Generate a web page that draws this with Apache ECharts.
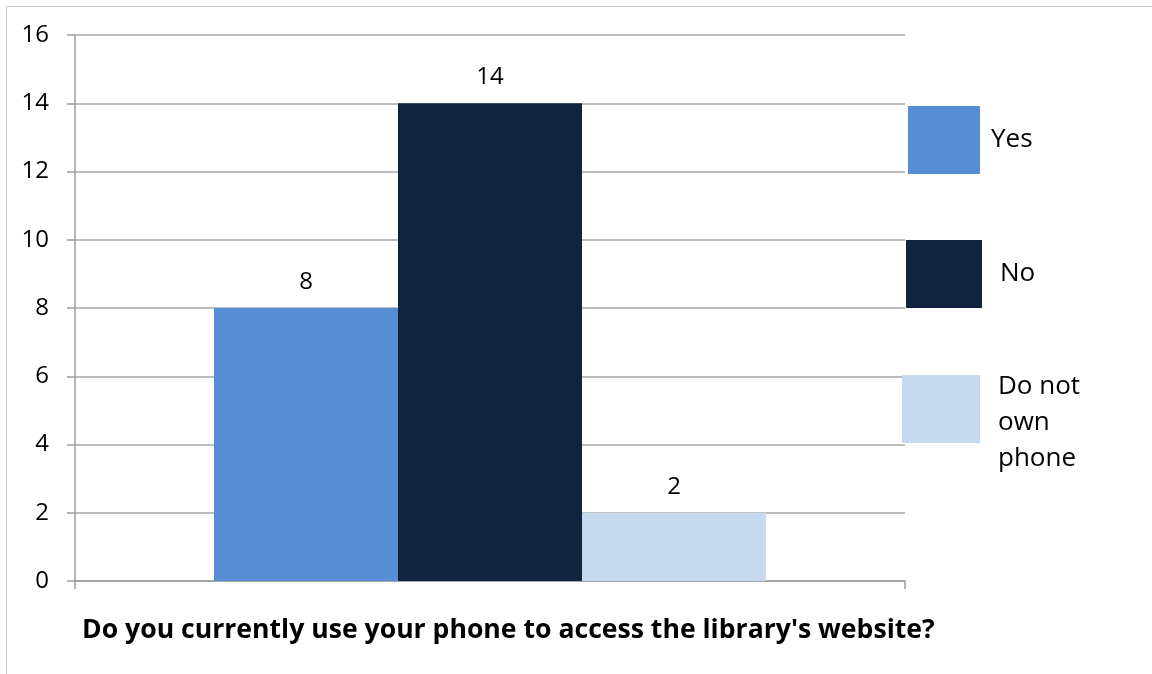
<!DOCTYPE html>
<html><head><meta charset="utf-8">
<script src="https://cdn.jsdelivr.net/npm/echarts@6/dist/echarts.min.js"></script>
<style>html,body{margin:0;padding:0;background:#fff}#c{width:1152px;height:674px}</style>
</head><body><div id="c"></div>
<script>
const categories = [''];
const seriesNames = ['Yes', 'No', 'Do not own phone'];
const yesValues = [8];
const noValues = [14];
const doNotOwnValues = [2];
const yTicks = [0, 2, 4, 6, 8, 10, 12, 14, 16];
const titleText = "Do you currently use your phone to access the library's website?";

const colors = ['#558ED5', '#10243F', '#C6D9F1'];
const font = '"Open Sans", sans-serif';
const chart = echarts.init(document.getElementById('c'));
const legendTops = [106, 240, 341];
const legendLefts = [908, 906, 902];
const legendWidths = [72, 76, 78];
const legendTextPad = [6, 13, 13];
const labels = {'Yes': '{t|Yes}', 'No': '{t|No}', 'Do not own phone': '{s| }\n{t|Do not}\n{t|own}\n{t|phone}'};
const dataArr = [yesValues, noValues, doNotOwnValues];

chart.setOption({
  animation: false,
  textStyle: {fontFamily: font},
  graphic: [{type: 'rect', shape: {x: 6.5, y: 6.5, width: 1200, height: 700}, style: {fill: 'none', stroke: '#c8c8c8', lineWidth: 1}}],
  title: {text: titleText, left: 77, top: 612, textStyle: {fontFamily: font, fontSize: 26.6, fontWeight: 'bold', color: '#000'}},
  legend: seriesNames.map((n, i) => ({
    data: [n], orient: 'vertical', left: legendLefts[i], top: legendTops[i], padding: 0,
    itemWidth: legendWidths[i], itemHeight: 68, icon: 'rect', selectedMode: false,
    formatter: (name) => labels[name],
    textStyle: {fontFamily: font, fontSize: 26, color: '#000', lineHeight: 36, padding: [0, 0, 0, legendTextPad[i]],
      rich: {t: {fontFamily: font, fontSize: 26, color: '#000', lineHeight: 36}, s: {fontSize: 10, lineHeight: 28}}}
  })),
  grid: {left: 75, right: 247, top: 35, bottom: 93},
  xAxis: {type: 'category', data: categories,
    axisLine: {lineStyle: {color: '#9c9c9c', width: 1.5}},
    axisTick: {show: true, alignWithLabel: false, length: 8, lineStyle: {color: '#9c9c9c', width: 1.5}},
    axisLabel: {show: false}},
  yAxis: {type: 'value', min: yTicks[0], max: yTicks[yTicks.length - 1], interval: 2,
    axisLine: {show: true, lineStyle: {color: '#9c9c9c', width: 1.5}},
    axisTick: {show: true, length: 8, lineStyle: {color: '#9c9c9c', width: 1.5}},
    axisLabel: {margin: 26, fontFamily: font, fontSize: 24, color: '#000'},
    splitLine: {lineStyle: {color: '#a6a6a6', width: 1.5}}},
  series: seriesNames.map((n, i) => ({
    name: n, type: 'bar', data: dataArr[i], barWidth: 184, barGap: '0%',
    itemStyle: {color: colors[i]},
    label: {show: true, position: 'top', distance: 14, fontFamily: font, fontSize: 24, color: '#000'}
  }))
});
</script></body></html>
